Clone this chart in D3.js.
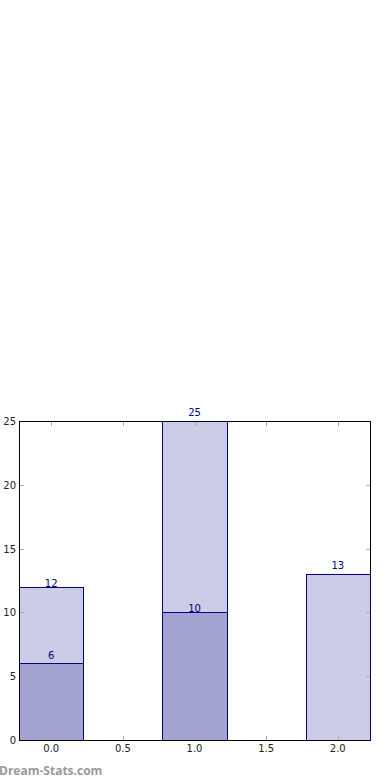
<!DOCTYPE html>
<html><head><meta charset="utf-8">
<script src="https://cdn.jsdelivr.net/npm/d3@7"></script>
<style>html,body{margin:0;padding:0;background:#fff;}svg{display:block;}</style>
</head><body>
<script>
const positions = [0, 1, 2];
const totals = [12, 25, 13];
const subsets = [6, 10, null];
const xTicks = [0.0, 0.5, 1.0, 1.5, 2.0];
const yTicks = [0, 5, 10, 15, 20, 25];
const totalLabelOffsets = [0, -5, -5];
const subsetLabelOffsets = [-4, 0, 0];

const W = 390, H = 780;
const L = 19, R = 370, T = 421, B = 740;
const svg = d3.select("body").append("svg").attr("width", W).attr("height", H);
const x = d3.scaleLinear().domain([-0.225, 2.225]).range([L, R]);
const y = d3.scaleLinear().domain([0, 25]).range([B, T]);
const bw = 0.45;
const font = "DejaVu Sans, sans-serif";

// right spine (under bars)
svg.append("line").attr("x1", R + 0.5).attr("x2", R + 0.5).attr("y1", T).attr("y2", B).attr("stroke", "#000");

const fill = "rgba(0,0,128,0.2)";
function bar(sel, valFn) {
  sel.attr("x", d => Math.round(x(d - bw / 2)) + 0.5)
    .attr("width", d => Math.round(x(d + bw / 2)) - Math.round(x(d - bw / 2)))
    .attr("y", d => Math.round(y(valFn(d))) + 0.5)
    .attr("height", d => Math.round(y(0)) - Math.round(y(valFn(d))))
    .attr("fill", fill).attr("stroke", "#000080").attr("stroke-width", 1);
}
bar(svg.selectAll("rect.tot").data(positions).enter().append("rect"), d => totals[d]);
bar(svg.selectAll("rect.sub").data(positions.filter(d => subsets[d] != null)).enter().append("rect"), d => subsets[d]);

// ticks (inward, grey) on all four sides
const tc = "#aaa";
xTicks.forEach(t => {
  const px = Math.round(x(t)) + 0.5;
  svg.append("line").attr("x1", px).attr("x2", px).attr("y1", B).attr("y2", B - 4).attr("stroke", tc);
  svg.append("line").attr("x1", px).attr("x2", px).attr("y1", T + 1).attr("y2", T + 5).attr("stroke", tc);
});
yTicks.forEach(t => {
  const py = Math.round(y(t)) + 0.5;
  svg.append("line").attr("x1", L + 1).attr("x2", L + 5).attr("y1", py).attr("y2", py).attr("stroke", tc);
  svg.append("line").attr("x1", R).attr("x2", R - 4).attr("y1", py).attr("y2", py).attr("stroke", tc);
});

// spines
svg.append("line").attr("x1", L).attr("x2", R + 1).attr("y1", T + 0.5).attr("y2", T + 0.5).attr("stroke", "#000");
svg.append("line").attr("x1", L).attr("x2", R + 1).attr("y1", B + 0.5).attr("y2", B + 0.5).attr("stroke", "#000");
svg.append("line").attr("x1", L + 0.5).attr("x2", L + 0.5).attr("y1", T).attr("y2", B + 1).attr("stroke", "#000");

// tick labels
svg.selectAll("text.xt").data(xTicks).enter().append("text")
  .attr("x", d => x(d)).attr("y", B + 12).attr("text-anchor", "middle")
  .attr("font-family", font).attr("font-size", 10).attr("fill", "#222")
  .text(d => d.toFixed(1));
svg.selectAll("text.yt").data(yTicks).enter().append("text")
  .attr("x", L - 3).attr("y", d => y(d) + 4).attr("text-anchor", "end")
  .attr("font-family", font).attr("font-size", 10).attr("fill", "#222")
  .text(d => d);

// value labels
svg.selectAll("text.tl").data(positions).enter().append("text")
  .attr("x", d => x(d)).attr("y", d => y(totals[d]) + totalLabelOffsets[d])
  .attr("text-anchor", "middle").attr("font-family", font).attr("font-size", 10).attr("fill", "#000080")
  .text(d => totals[d]);
svg.selectAll("text.sl").data(positions.filter(d => subsets[d] != null)).enter().append("text")
  .attr("x", d => x(d)).attr("y", d => y(subsets[d]) + subsetLabelOffsets[d])
  .attr("text-anchor", "middle").attr("font-family", font).attr("font-size", 10).attr("fill", "#000080")
  .text(d => subsets[d]);

// watermark
svg.append("text").attr("x", -1).attr("y", 775).attr("font-family", "Open Sans, sans-serif").attr("font-size", 12)
  .attr("font-weight", "bold").attr("fill", "#999").text("Dream-Stats.com");
</script>
</body></html>
